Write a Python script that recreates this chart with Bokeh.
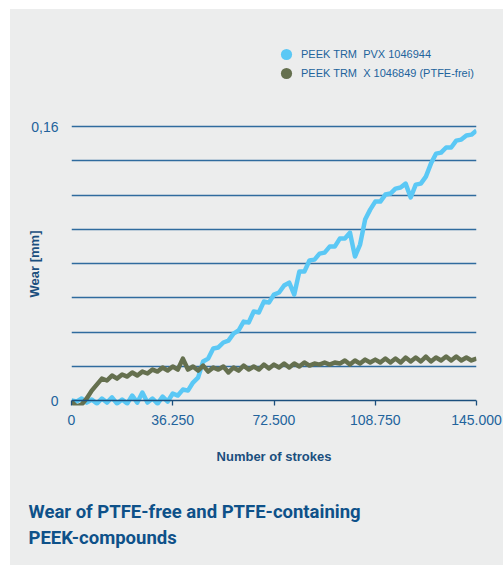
from bokeh.plotting import figure
from bokeh.layouts import column
from bokeh.models import FixedTicker, Legend, LegendItem, Range1d, Title, Span
from bokeh.embed import file_html
from bokeh.resources import INLINE

# ---- data -------------------------------------------------------------
strokes = [0, 1812.5, 3625, 5437.5, 7250, 9062.5, 10875, 12687.5, 14500, 16312.5,
           18125, 19937.5, 21750, 23562.5, 25375, 27187.5, 29000, 30812.5, 32625, 34437.5,
           36250, 38062.5, 39875, 41687.5, 43500, 45312.5, 47125, 48937.5, 50750, 52562.5,
           54375, 56187.5, 58000, 59812.5, 61625, 63437.5, 65250, 67062.5, 68875, 70687.5,
           72500, 74312.5, 76125, 77937.5, 79750, 81562.5, 83375, 85187.5, 87000, 88812.5,
           90625, 92437.5, 94250, 96062.5, 97875, 99687.5, 101500, 103312.5, 105125, 106937.5,
           108750, 110562.5, 112375, 114187.5, 116000, 117812.5, 119625, 121437.5, 123250, 125062.5,
           126875, 128687.5, 130500, 132312.5, 134125, 135937.5, 137750, 139562.5, 141375, 143187.5,
           145000]

wear_pvx = [0.0000, -0.0006, 0.0012, -0.0012, 0.0006, -0.0018, 0.0012, -0.0012, 0.0018, -0.0018,
            0.0006, -0.0018, 0.0029, -0.0012, 0.0047, -0.0012, 0.0012, -0.0018, 0.0023, -0.0006,
            0.0041, 0.0029, 0.0064, 0.0058, 0.0105, 0.0134, 0.0228, 0.0245, 0.0304, 0.0310,
            0.0339, 0.0350, 0.0391, 0.0409, 0.0461, 0.0456, 0.0520, 0.0514, 0.0578, 0.0572,
            0.0619, 0.0631, 0.0672, 0.0689, 0.0619, 0.0753, 0.0753, 0.0818, 0.0823, 0.0858,
            0.0864, 0.0899, 0.0899, 0.0946, 0.0946, 0.0981, 0.0841, 0.0911, 0.1057, 0.1115,
            0.1162, 0.1162, 0.1203, 0.1209, 0.1238, 0.1244, 0.1267, 0.1186, 0.1261, 0.1267,
            0.1308, 0.1384, 0.1442, 0.1448, 0.1478, 0.1478, 0.1518, 0.1524, 0.1548, 0.1553,
            0.1577]

wear_x = [-0.0006, -0.0035, -0.0023, 0.0012, 0.0058, 0.0093, 0.0128, 0.0117, 0.0146, 0.0128,
          0.0152, 0.0140, 0.0164, 0.0146, 0.0169, 0.0158, 0.0181, 0.0169, 0.0193, 0.0175,
          0.0199, 0.0181, 0.0245, 0.0181, 0.0199, 0.0175, 0.0204, 0.0169, 0.0193, 0.0181,
          0.0199, 0.0164, 0.0193, 0.0175, 0.0204, 0.0181, 0.0199, 0.0181, 0.0210, 0.0187,
          0.0210, 0.0193, 0.0216, 0.0193, 0.0216, 0.0199, 0.0222, 0.0204, 0.0216, 0.0210,
          0.0222, 0.0210, 0.0222, 0.0216, 0.0234, 0.0210, 0.0234, 0.0216, 0.0239, 0.0222,
          0.0239, 0.0222, 0.0245, 0.0222, 0.0245, 0.0222, 0.0251, 0.0228, 0.0251, 0.0228,
          0.0257, 0.0228, 0.0251, 0.0234, 0.0257, 0.0234, 0.0257, 0.0234, 0.0251, 0.0234,
          0.0245]

series_names = ["PEEK TRM  PVX 1046944", "PEEK TRM  X 1046849 (PTFE-frei)"]

x_ticks = [0, 36250, 72500, 108750, 145000]
x_tick_labels = ["0", "36.250", "72.500", "108.750", "145.000"]
y_ticks = [0, 0.16]
y_tick_labels = ["0", "0,16"]
y_grid = [0.02, 0.04, 0.06, 0.08, 0.10, 0.12, 0.14, 0.16]

title_lines = ["Wear of PTFE-free and PTFE-containing", "PEEK-compounds"]

# ---- style ------------------------------------------------------------
BG = "#ECEDED"
BLUE = "#5BC8F5"
OLIVE = "#65704F"
NAVY = "#1B4F7E"
GRID = "#2F6B9E"
TXT = "#22639C"
TITLE = "#0E5189"
FONT = "Liberation Sans"

# ---- legend strip ---------------------------------------------------------
lg = figure(width=493, height=90, x_range=Range1d(0, 145000), y_range=Range1d(1, 2),
            x_axis_type=None, y_axis_type=None, output_backend="svg", toolbar_location=None,
            background_fill_color=BG, border_fill_color=BG,
            outline_line_color=None, min_border=0)
m1 = lg.scatter(x=strokes, y=wear_pvx, size=11, fill_color=BLUE, line_color=None, visible=False)
m2 = lg.scatter(x=strokes, y=wear_x, size=11, fill_color=OLIVE, line_color=None, visible=False)
for name, rend, off in zip(series_names, [m1, m2], [31, 12]):
    lg.add_layout(Legend(items=[LegendItem(label=name, renderers=[rend])],
                         location=(201, off), orientation="vertical", padding=0, margin=0,
                         spacing=0, glyph_width=28, glyph_height=28, label_height=14,
                         label_standoff=1, label_text_font=FONT, label_text_font_size="11px",
                         label_text_color=TXT, border_line_color=None,
                         background_fill_alpha=0, inactive_fill_alpha=0), "center")

# ---- main chart -----------------------------------------------------------
p = figure(width=493, height=466, x_range=Range1d(0, 145000), y_range=Range1d(-0.0029, 0.1624),
           output_backend="svg", toolbar_location=None,
           background_fill_color=BG, border_fill_color=BG, outline_line_color=None,
           min_border_left=61, min_border_right=27, min_border_top=23, min_border_bottom=160)

p.xgrid.visible = False
p.ygrid.ticker = FixedTicker(ticks=y_grid)
p.ygrid.grid_line_color = GRID
p.ygrid.grid_line_width = 1.3

p.add_layout(Span(location=0, dimension="width", line_color=NAVY, line_width=1.6))

xa = p.xaxis[0]
xa.ticker = FixedTicker(ticks=x_ticks)
xa.major_label_overrides = {t: l for t, l in zip(x_ticks, x_tick_labels)}
xa.axis_line_color = None
xa.major_tick_line_color = NAVY
xa.major_tick_line_width = 1.3
xa.major_tick_in = 5
xa.major_tick_out = 0
xa.minor_tick_line_color = None
xa.major_label_standoff = 9
xa.major_label_text_font = FONT
xa.major_label_text_font_size = "14px"
xa.major_label_text_color = TXT
xa.axis_label = "Number of strokes"
xa.axis_label_text_font = FONT
xa.axis_label_text_font_style = "bold"
xa.axis_label_text_font_size = "13px"
xa.axis_label_text_color = NAVY
xa.axis_label_standoff = 21

ya = p.yaxis[0]
ya.ticker = FixedTicker(ticks=y_ticks)
ya.major_label_overrides = {t: l for t, l in zip(y_ticks, y_tick_labels)}
ya.axis_line_color = None
ya.major_tick_line_color = None
ya.minor_tick_line_color = None
ya.major_tick_in = 0
ya.major_tick_out = 0
ya.major_label_standoff = 13
ya.major_label_text_font = FONT
ya.major_label_text_font_size = "14px"
ya.major_label_text_color = TXT
ya.axis_label = "Wear [mm]"
ya.axis_label_text_font = FONT
ya.axis_label_text_font_style = "bold"
ya.axis_label_text_font_size = "13px"
ya.axis_label_text_color = NAVY
ya.axis_label_standoff = -14

p.line(strokes, wear_pvx, line_color=BLUE, line_width=4.5, line_join="round")
p.line(strokes, wear_x, line_color=OLIVE, line_width=4.5, line_join="round")

p.add_layout(Title(text="\n".join(title_lines), align="left", offset=-43, text_font="Roboto",
                   text_font_style="bold", text_font_size="18.5px", text_line_height=1.21,
                   text_color=TITLE, standoff=0,
                   padding=dict(left=0, right=0, top=32, bottom=0)), "below")

layout = column(lg, p, margin=(9, 0, 0, 10), styles={"background-color": BG})
open("out.html", "w").write(file_html(layout, INLINE))
